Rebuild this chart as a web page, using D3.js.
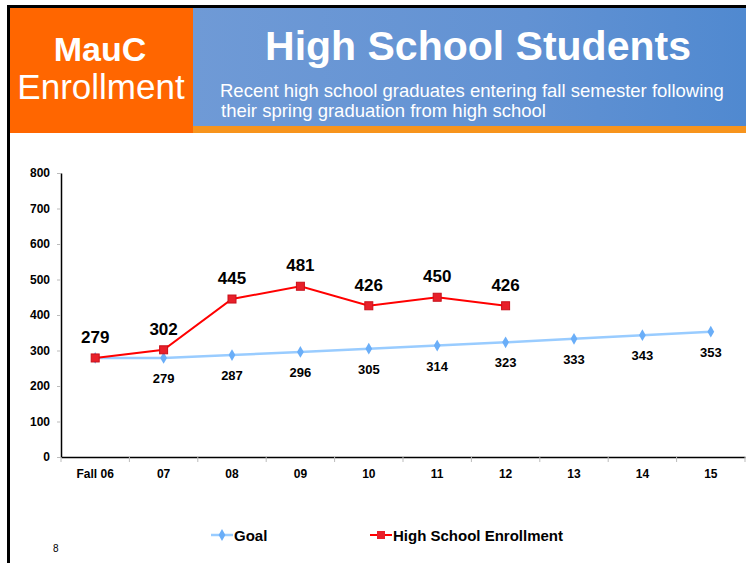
<!DOCTYPE html>
<html lang="en">
<head>
    <meta charset="utf-8">
    <title>High School Students</title>
    <script src="https://d3js.org/d3.v7.min.js"></script>
    <style>
        html, body {
            margin: 0;
            padding: 0;
            background: white;
        }
        text {
            font-family: "Liberation Sans", Arial, sans-serif;
        }
        .axis text {
            font-size: 12px;
            font-weight: bold;
            fill: black;
        }
        .axis .domain {
            stroke: black;
            stroke-width: 1.5px;
        }
        .axis .tick line {
            stroke: #bbbbbb;
        }
    </style>
</head>
<body>
<script type="text/javascript">

    // data
    var categories = ["Fall 06", "07", "08", "09", "10", "11", "12", "13", "14", "15"];
    var goalValues = [279, 279, 287, 296, 305, 314, 323, 333, 343, 353];
    var enrollValues = [279, 302, 445, 481, 426, 450, 426];
    var yTicks = [0, 100, 200, 300, 400, 500, 600, 700, 800];
    var seriesNames = ["Goal", "High School Enrollment"];

    var w = 746, h = 563;

    var svg = d3.select("body")
        .append("svg")
        .attr("width", w)
        .attr("height", h);

    //header background
    var defs = svg.append("defs");
    var grad = defs.append("linearGradient")
        .attr("id", "blueGrad")
        .attr("x1", "0%").attr("x2", "100%")
        .attr("y1", "0%").attr("y2", "0%");
    grad.append("stop").attr("offset", "0%").attr("stop-color", "#6f9ad6");
    grad.append("stop").attr("offset", "60%").attr("stop-color", "#6292d3");
    grad.append("stop").attr("offset", "100%").attr("stop-color", "#5089d0");

    svg.append("rect")
        .attr("x", 193).attr("y", 8)
        .attr("width", w - 193).attr("height", 118)
        .attr("fill", "url(#blueGrad)");
    svg.append("rect")
        .attr("x", 193).attr("y", 126)
        .attr("width", w - 193).attr("height", 7)
        .attr("fill", "#f7941d");
    svg.append("rect")
        .attr("x", 10).attr("y", 8)
        .attr("width", 183).attr("height", 125)
        .attr("fill", "#ff6600");

    //frame
    svg.append("rect")
        .attr("x", 7).attr("y", 5)
        .attr("width", w - 7).attr("height", 3)
        .attr("fill", "black");
    svg.append("rect")
        .attr("x", 7).attr("y", 5)
        .attr("width", 3).attr("height", h - 5)
        .attr("fill", "black");

    //header texts
    svg.append("text")
        .attr("x", 100).attr("y", 61)
        .attr("text-anchor", "middle")
        .attr("fill", "white")
        .style("font-size", "34px")
        .style("font-weight", "bold")
        .text("MauC");
    svg.append("text")
        .attr("x", 101).attr("y", 99)
        .attr("text-anchor", "middle")
        .attr("fill", "white")
        .style("font-size", "35px")
        .text("Enrollment");
    svg.append("text")
        .attr("x", 478).attr("y", 60)
        .attr("text-anchor", "middle")
        .attr("fill", "white")
        .style("font-size", "41px")
        .style("font-weight", "bold")
        .text("High School Students");
    svg.append("text")
        .attr("x", 220).attr("y", 97)
        .attr("fill", "white")
        .style("font-size", "18.5px")
        .text("Recent high school graduates entering fall semester following");
    svg.append("text")
        .attr("x", 221).attr("y", 117)
        .attr("fill", "white")
        .style("font-size", "18.5px")
        .text("their spring graduation from high school");

    //scales
    var xScale = d3.scaleBand()
        .domain(categories)
        .range([61, 745])
        .padding(0);
    var yScale = d3.scaleLinear()
        .domain([0, 800])
        .range([457, 173]);
    var cx = function(i) { return xScale(categories[i]) + xScale.bandwidth() / 2; };

    //axes
    var yAxis = d3.axisLeft(yScale)
        .tickValues(yTicks)
        .tickSize(4)
        .tickPadding(7)
        .tickSizeOuter(0);
    svg.append("g")
        .attr("class", "axis")
        .attr("transform", "translate(61,0)")
        .call(yAxis);

    var xAxis = d3.axisBottom(xScale)
        .tickSize(0)
        .tickPadding(12)
        .tickSizeOuter(0);
    var gx = svg.append("g")
        .attr("class", "axis")
        .attr("transform", "translate(0,457)")
        .call(xAxis);
    gx.selectAll(".bound")
        .data(categories.concat(["end"]))
        .enter()
        .append("line")
        .attr("x1", function(d, i) { return 61 + i * xScale.step(); })
        .attr("x2", function(d, i) { return 61 + i * xScale.step(); })
        .attr("y1", 0).attr("y2", 5)
        .attr("stroke", "#bbbbbb");

    //goal line
    var line = d3.line()
        .x(function(d, i) { return cx(i); })
        .y(function(d) { return yScale(d); });

    svg.append("path")
        .datum(goalValues)
        .attr("d", line)
        .attr("fill", "none")
        .attr("stroke", "#99ccff")
        .attr("stroke-width", 2.5);
    var diamond = d3.symbol().type(d3.symbolDiamond).size(40);
    svg.selectAll(".goalPt")
        .data(goalValues)
        .enter()
        .append("path")
        .attr("d", diamond)
        .attr("transform", function(d, i) { return "translate(" + cx(i) + "," + yScale(d) + ")"; })
        .attr("fill", "#6aaef8");
    svg.selectAll(".goalLbl")
        .data(goalValues)
        .enter()
        .append("text")
        .filter(function(d, i) { return i > 0; })
        .attr("x", function(d, i) { return cx(i + 1); })
        .attr("y", function(d) { return yScale(d) + 25; })
        .attr("text-anchor", "middle")
        .style("font-size", "13px")
        .style("font-weight", "bold")
        .text(function(d) { return d; });

    //enrollment line
    svg.append("path")
        .datum(enrollValues)
        .attr("d", line)
        .attr("fill", "none")
        .attr("stroke", "#ff0000")
        .attr("stroke-width", 2);
    svg.selectAll(".enrPt")
        .data(enrollValues)
        .enter()
        .append("rect")
        .attr("x", function(d, i) { return cx(i) - 4; })
        .attr("y", function(d) { return yScale(d) - 4; })
        .attr("width", 8).attr("height", 8)
        .attr("fill", "#e8202a")
        .attr("stroke", "#c8101a")
        .attr("stroke-width", 1);
    svg.selectAll(".enrLbl")
        .data(enrollValues)
        .enter()
        .append("text")
        .attr("x", function(d, i) { return cx(i); })
        .attr("y", function(d) { return yScale(d) - 15; })
        .attr("text-anchor", "middle")
        .style("font-size", "17px")
        .style("font-weight", "bold")
        .text(function(d) { return d; });

    //legend
    var legend = svg.append("g").attr("transform", "translate(0,535)");
    legend.append("line")
        .attr("x1", 211).attr("x2", 233)
        .attr("stroke", "#99ccff").attr("stroke-width", 2.5);
    legend.append("path")
        .attr("d", diamond)
        .attr("transform", "translate(222,0)")
        .attr("fill", "#6aaef8");
    legend.append("text")
        .attr("x", 234).attr("y", 6)
        .style("font-size", "15px")
        .style("font-weight", "bold")
        .text(seriesNames[0]);
    legend.append("line")
        .attr("x1", 370).attr("x2", 392)
        .attr("stroke", "#ff0000").attr("stroke-width", 2);
    legend.append("rect")
        .attr("x", 377).attr("y", -4)
        .attr("width", 8).attr("height", 8)
        .attr("fill", "#e8202a");
    legend.append("text")
        .attr("x", 393).attr("y", 6)
        .style("font-size", "15px")
        .style("font-weight", "bold")
        .text(seriesNames[1]);

    //page number
    svg.append("text")
        .attr("x", 53).attr("y", 552)
        .style("font-size", "10px")
        .text("8");

</script>
</body>
</html>
